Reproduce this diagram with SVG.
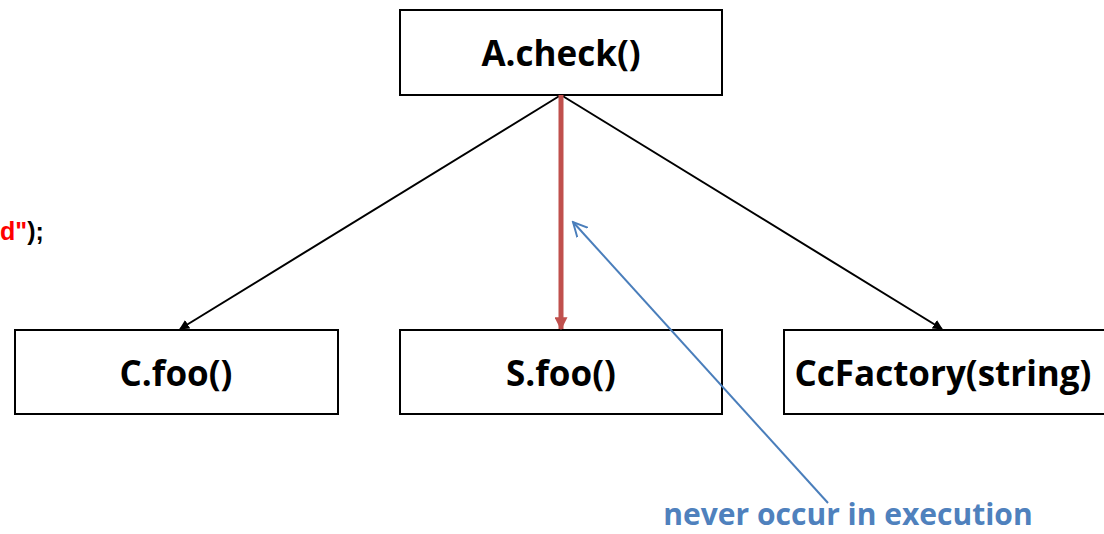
<svg xmlns="http://www.w3.org/2000/svg" width="1104" height="534" viewBox="0 0 1104 534">
<style>
.box{fill:#fff;stroke:#000;stroke-width:2}
.lbl{font-family:"Open Sans","Noto Sans",sans-serif;font-weight:bold;font-size:35px;fill:#000;text-anchor:middle}
</style>
<defs>
<marker id="ab" viewBox="0 0 10 10" refX="9" refY="5" markerWidth="5" markerHeight="5" orient="auto" markerUnits="strokeWidth"><path d="M0,0L10,5L0,10z" fill="#000"/></marker>
<marker id="ar" viewBox="0 0 10 10" refX="9" refY="5" markerWidth="2.6" markerHeight="2.6" orient="auto" markerUnits="strokeWidth"><path d="M0,0L10,5L0,10z" fill="#C0504D"/></marker>
<marker id="ao" viewBox="0 0 10 10" refX="9" refY="5" markerWidth="8" markerHeight="8" orient="auto" markerUnits="strokeWidth"><path d="M0,0.5L9,5L0,9.5" fill="none" stroke="#4A7EBB" stroke-width="1.2"/></marker>
</defs>
<rect width="1104" height="534" fill="#fff"/>
<text x="0" y="240" font-family="Liberation Sans,Arial,sans-serif" font-weight="bold" font-size="25"><tspan fill="#FF0000">d"</tspan><tspan fill="#000">);</tspan></text>
<g id="n-check"><rect class="box" x="400" y="10" width="322" height="85"/><text class="lbl" x="561" y="66">A.check()</text></g>
<g id="n-cfoo"><rect class="box" x="15" y="330" width="323" height="84"/><text class="lbl" x="176" y="386">C.foo()</text></g>
<g id="n-sfoo"><rect class="box" x="400" y="330" width="322" height="84"/><text class="lbl" x="561" y="386">S.foo()</text></g>
<g id="n-factory"><rect class="box" x="784" y="330" width="330" height="84"/><text class="lbl" x="943" y="386">CcFactory(string)</text></g>
<g id="connectors">
<line x1="561" y1="95" x2="180" y2="329" stroke="#000" stroke-width="2" marker-end="url(#ab)"/>
<line x1="561" y1="95" x2="942" y2="329" stroke="#000" stroke-width="2" marker-end="url(#ab)"/>
<line x1="561" y1="95" x2="561" y2="329" stroke="#C0504D" stroke-width="5" marker-end="url(#ar)"/>
<line x1="828" y1="503" x2="573" y2="222" stroke="#4A7EBB" stroke-width="2" marker-end="url(#ao)"/>
</g>
<text x="848" y="525" font-family="Open Sans,Noto Sans,sans-serif" font-weight="bold" font-size="30" fill="#4F81BD" text-anchor="middle">never occur in execution</text>
</svg>
